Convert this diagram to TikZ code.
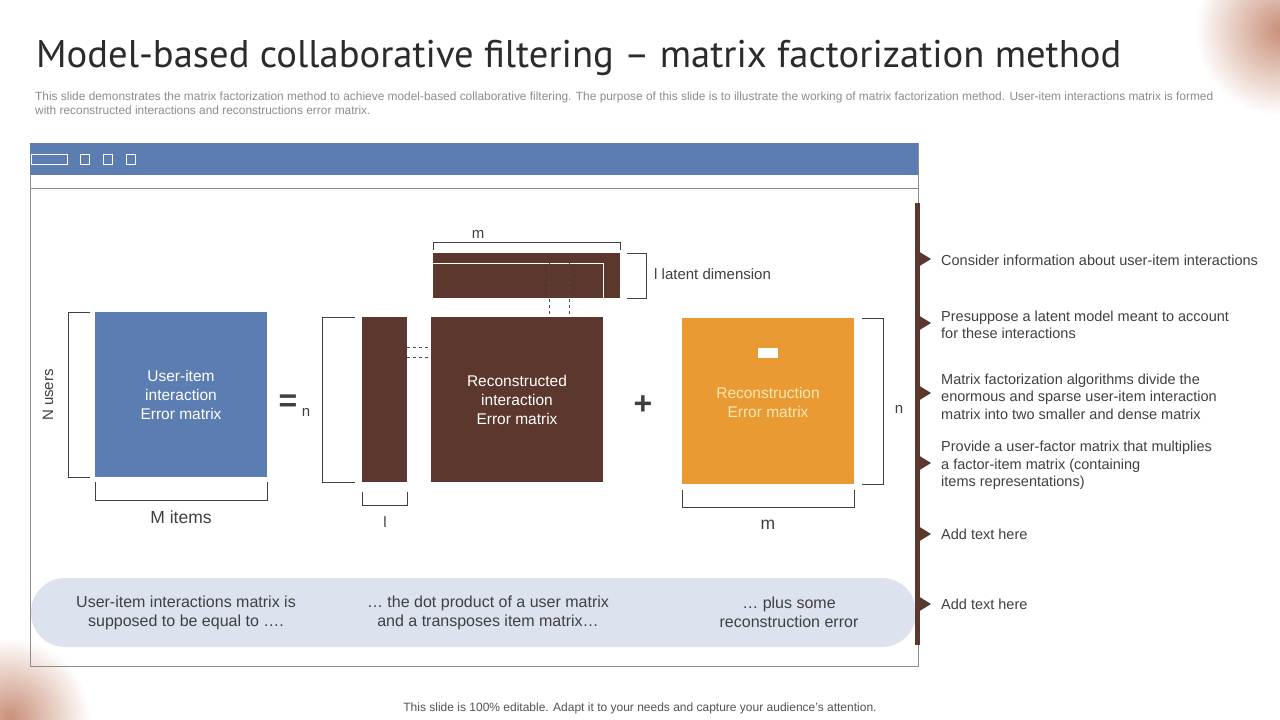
\documentclass[tikz,border=0pt]{standalone}
\usepackage{fontspec}
\setmainfont{Liberation Sans}
\newfontfamily\titlefont{PT Sans}
\usetikzlibrary{positioning}
\definecolor{barblue}{HTML}{5B7DB1}
\definecolor{matbrown}{HTML}{5B372E}
\definecolor{matorange}{HTML}{E99A33}
\definecolor{pillblue}{HTML}{DCE3EE}
\definecolor{textgray}{HTML}{404040}
\definecolor{titlegray}{HTML}{2B2B2B}
\definecolor{framegray}{HTML}{8C8C8C}
\definecolor{softyellow}{HTML}{FCE8B2}
\definecolor{blobtone}{HTML}{C98F78}

\begin{document}
\begin{tikzpicture}[
  x=1pt, y=-1pt,
  matbox/.style={rectangle, inner sep=0pt, outer sep=0pt, align=center, text=white, font=\fontsize{15.5}{19}\selectfont},
  brack/.style={draw=textgray, line width=0.8pt},
  lbl/.style={text=textgray, inner sep=0pt, font=\fontsize{15}{18}\selectfont},
  note/.style={text=textgray, align=left, anchor=west, inner sep=0pt, font=\fontsize{14.5}{17.5}\selectfont},
  pilltext/.style={text=textgray, align=center, inner sep=0pt, font=\fontsize{16}{19}\selectfont},
  sign/.style={text=textgray, inner sep=0pt, font=\fontsize{32}{32}\selectfont\bfseries}
]
  \useasboundingbox (0,0) rectangle (1280,720);
  \fill[white] (0,0) rectangle (1280,720);
  \shade[inner color=blobtone, outer color=white] (1280,30) circle (85);
  \shade[inner color=blobtone, outer color=white] (10,718) circle (80);

  \node[anchor=base west, inner sep=0pt, text=titlegray, font=\titlefont\fontsize{38.6}{40}\selectfont] (title) at (36,67)
    {Model-based collaborative filtering – matrix factorization method};
  \node[anchor=north west, inner sep=0pt, align=left, text=framegray, font=\fontsize{11.9}{14}\selectfont] (sub) at (35,91.5)
    {This slide demonstrates the matrix factorization method to achieve model-based collaborative filtering. The purpose of this slide is to illustrate the working of matrix factorization method. User-item interactions matrix is formed\\
     with reconstructed interactions and reconstructions error matrix.};

  \draw[framegray, line width=1pt] (30,143) rectangle (918,666);
  \fill[barblue] (30,143) rectangle (918,175);
  \draw[framegray, line width=0.8pt] (30,188) -- (918,188);
  \draw[white, line width=0.9pt] (31,154) rectangle (67,164);
  \foreach \bx in {80,103,126}
    \draw[white, line width=0.9pt] (\bx,154) rectangle ++(9,10);

  \node[fill=pillblue, rounded corners=34pt, minimum width=885pt, minimum height=69pt, inner sep=0pt] (pill) at (473.5,612.5) {};
  \node[pilltext] (p1) at (186,612.5) {User-item interactions matrix is\\supposed to be equal to ….};
  \node[pilltext] (p2) at (488,612.5) {… the dot product of a user matrix\\and a transposes item matrix…};
  \node[pilltext] (p3) at (789,612.5) {… plus some\\reconstruction error};

  \node[matbox, fill=barblue, minimum width=172pt, minimum height=165pt] (uim) at (181,394.5) {User-item\\interaction\\Error matrix};
  \node[matbox, fill=matbrown, minimum width=45pt, minimum height=165pt] (usr) at (384.5,399.5) {};
  \node[matbox, fill=matbrown, minimum width=172pt, minimum height=165pt] (rec) at (517,399.5) {Reconstructed\\interaction\\Error matrix};
  \node[matbox, fill=matbrown, minimum width=187pt, minimum height=45pt] (itm) at (526.5,275.5) {};
  \node[matbox, fill=matorange, minimum width=172pt, minimum height=166pt] (err) at (768,401) {};
  \node[matbox, text=softyellow] (errtext) at (768,402.5) {Reconstruction\\Error matrix};
  \fill[white] (758,348) rectangle (778,358);

  \draw[white, line width=0.8pt] (433,263) -- (603,263) -- (603,298);
  \draw[black!70, dashed, line width=0.6pt] (407,347) -- (431,347) (407,357) -- (431,357);
  \draw[black!70, dashed, line width=0.6pt] (549,263) -- (549,317) (569,263) -- (569,317);

  \draw[brack] (90,312) -- (68,312) -- (68,477) -- (90,477);
  \draw[brack] (95,482) -- (95,500) -- (267,500) -- (267,482);
  \node[lbl, rotate=90] (nusers) at (48,395) {N users};
  \node[lbl, font=\fontsize{17.5}{20}\selectfont] (mitems) at (181,517) {M items};

  \node[sign] (eq) at (288,403) {=};
  \node[lbl] (n1) at (306,412) {n};
  \draw[brack] (355,317) -- (322,317) -- (322,482) -- (355,482);
  \draw[brack] (362,492) -- (362,505) -- (407,505) -- (407,492);
  \node[lbl] (l1) at (385,522) {l};

  \draw[brack] (433,250) -- (433,242) -- (620,242) -- (620,250);
  \node[lbl] (m1) at (478,234) {m};
  \draw[brack] (627,253) -- (646,253) -- (646,298) -- (627,298);
  \node[lbl, anchor=west] (latent) at (654,274) {l latent dimension};

  \node[sign] (plus) at (643,405) {+};
  \draw[brack] (862,318) -- (883,318) -- (883,484) -- (862,484);
  \node[lbl] (n2) at (899,409) {n};
  \draw[brack] (682,490) -- (682,507) -- (854,507) -- (854,490);
  \node[lbl, font=\fontsize{17.5}{20}\selectfont] (m2) at (768,525) {m};

  \draw[matbrown, line width=5pt] (917,203) -- (917,645);
  \foreach \py in {259,323,393,463,534,604}
    \fill[matbrown] (918,\py-8) -- (931,\py) -- (918,\py+8) -- cycle;

  \node[note] (t1) at (941,260) {Consider information about user-item interactions};
  \node[note] (t2) at (941,325) {Presuppose a latent model meant to account\\for these interactions};
  \node[note] (t3) at (941,396.5) {Matrix factorization algorithms divide the\\enormous and sparse user-item interaction\\matrix into two smaller and dense matrix};
  \node[note] (t4) at (941,465.5) {Provide a user-factor matrix that multiplies\\a factor-item matrix (containing\\items representations)};
  \node[note] (t5) at (941,534) {Add text here};
  \node[note] (t6) at (941,604) {Add text here};

  \node[text=textgray!90, inner sep=0pt, font=\fontsize{12}{13}\selectfont] (foot) at (640,708)
    {This slide is 100\% editable. Adapt it to your needs and capture your audience's attention.};
\end{tikzpicture}
\end{document}
